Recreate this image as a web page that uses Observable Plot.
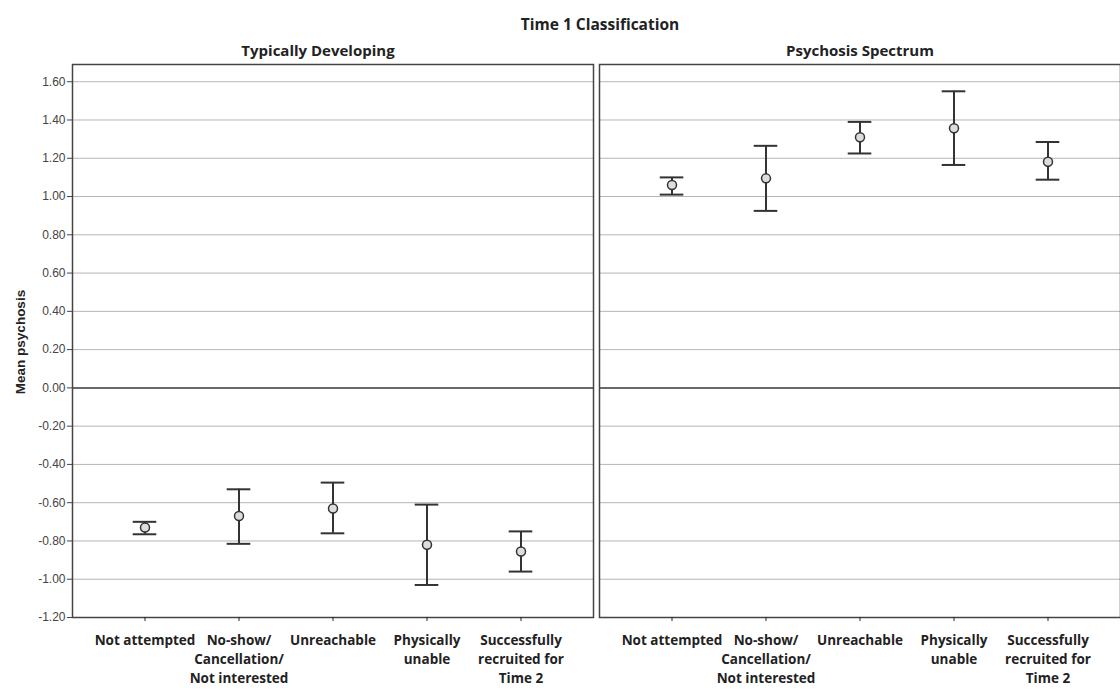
<!DOCTYPE html>
<html><head><meta charset="utf-8">
<script src="https://cdn.jsdelivr.net/npm/d3@7"></script>
<script src="https://cdn.jsdelivr.net/npm/@observablehq/plot@0.6"></script>
<style>
body{margin:0;background:#fff;}
#wrap{position:relative;width:1120px;height:690px;}
#title{position:absolute;top:13px;left:500px;width:200px;text-align:center;font:bold 15.5px "Open Sans";color:#222;white-space:nowrap;}
#ylab{position:absolute;left:20px;top:342px;transform:translate(-50%,-50%) rotate(-90deg);font:bold 13.5px "Liberation Sans";color:#222;white-space:nowrap;}
</style>
</head><body>
<div id="wrap"><div id="title">Time 1 Classification</div><div id="ylab">Mean psychosis</div></div>
<script>
const groups = ["Typically Developing", "Psychosis Spectrum"];
const categories = ["Not attempted", "No-show/Cancellation/Not interested", "Unreachable", "Physically unable", "Successfully recruited for Time 2"];
const tickLabels = ["Not attempted", "No-show/\nCancellation/\nNot interested", "Unreachable", "Physically\nunable", "Successfully\nrecruited for\nTime 2"];
const yTicks = [-1.2, -1.0, -0.8, -0.6, -0.4, -0.2, 0, 0.2, 0.4, 0.6, 0.8, 1.0, 1.2, 1.4, 1.6];

const tdMean = [-0.73, -0.67, -0.63, -0.82, -0.855];
const tdLow  = [-0.765, -0.815, -0.76, -1.03, -0.96];
const tdHigh = [-0.70, -0.53, -0.495, -0.61, -0.75];
const psMean = [1.06, 1.095, 1.31, 1.357, 1.182];
const psLow  = [1.01, 0.925, 1.225, 1.165, 1.088];
const psHigh = [1.10, 1.265, 1.39, 1.55, 1.285];

const means = [tdMean, psMean], lows = [tdLow, psLow], highs = [tdHigh, psHigh];
const rows = [];
groups.forEach((g, gi) => categories.forEach((c, i) => rows.push({group: g, cat: c, mean: means[gi][i], lo: lows[gi][i], hi: highs[gi][i]})));

const ink = "#333";
const capInset = 11.7;
const titleStyle = {frameAnchor: "top", dy: -19, fontSize: 15, fontWeight: "bold", fill: "#222"};
const chart = Plot.plot({
  width: 1120, height: 690,
  marginTop: 64, marginBottom: 73, marginLeft: 72, marginRight: 0,
  style: {fontFamily: "Open Sans", color: "#222", background: "#fff"},
  fx: {domain: groups, padding: 0.0114, label: null, axis: null},
  x: {type: "band", domain: categories, padding: 0.5, label: null},
  y: {domain: [-1.2, 1.69], label: null},
  marks: [
    Plot.gridY(yTicks, {stroke: "#b5b5b5", strokeOpacity: 1}),
    Plot.ruleY([0], {stroke: "#444", strokeWidth: 1.5}),
    Plot.frame({stroke: "#444", strokeWidth: 1.5}),
    Plot.text([groups[0]], {fx: d => d, text: d => d, dx: -15, ...titleStyle}),
    Plot.text([groups[1]], {fx: d => d, text: d => d, dx: 0, ...titleStyle}),
    Plot.axisY(yTicks, {tickFormat: d => d.toFixed(2), fontSize: 12, fontFamily: "Liberation Sans", tickSize: 5, tickPadding: 2, label: null, color: "#444"}),
    Plot.axisX({tickFormat: c => tickLabels[categories.indexOf(c)], fontSize: 13.5, fontWeight: "bold", lineHeight: 1.4, tickSize: 4, tickPadding: 10, label: null, color: "#222"}),
    Plot.ruleX(rows, {fx: "group", x: "cat", y1: "lo", y2: "hi", stroke: ink, strokeWidth: 2}),
    Plot.tickY(rows, {fx: "group", x: "cat", y: "lo", insetLeft: capInset, insetRight: capInset, stroke: ink, strokeWidth: 2}),
    Plot.tickY(rows, {fx: "group", x: "cat", y: "hi", insetLeft: capInset, insetRight: capInset, stroke: ink, strokeWidth: 2}),
    Plot.dot(rows, {fx: "group", x: "cat", y: "mean", r: 4.5, stroke: ink, strokeWidth: 1.5, fill: "#ddd"})
  ]
});
chart.style.position = "absolute";
chart.style.left = "0";
chart.style.top = "0";
const wrap = document.getElementById("wrap");
wrap.insertBefore(chart, wrap.firstChild);
</script>
</body></html>
